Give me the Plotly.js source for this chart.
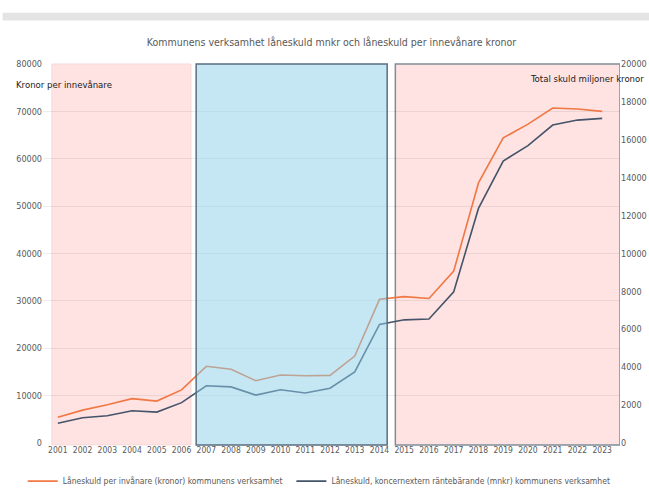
<!DOCTYPE html>
<html>
<head>
<meta charset="utf-8">
<script src="https://cdn.plot.ly/plotly-3.0.1.min.js"></script>
<style>
  html, body { margin: 0; padding: 0; background: #fff; }
  #chart { width: 649px; height: 495px; }
</style>
</head>
<body>
<div id="chart"></div>
<script>
// years on the x axis
var years = [2001, 2002, 2003, 2004, 2005, 2006, 2007, 2008, 2009, 2010, 2011, 2012,
  2013, 2014, 2015, 2016, 2017, 2018, 2019, 2020, 2021, 2022, 2023];

// Låneskuld per invånare (kronor), left axis
var perInvanare = [5450, 6940, 8080, 9360, 8850, 11200, 16190, 15550, 13150, 14350, 14200, 14280,
  18360, 30330, 30900, 30500, 36300, 54900, 64400, 67300, 70700, 70500, 70000];

// Låneskuld mnkr, right axis
var skuldMnkr = [1040, 1330, 1440, 1700, 1630, 2130, 3020, 2960, 2530, 2810, 2640, 2890,
  3750, 6260, 6500, 6540, 7980, 12380, 14880, 15690, 16780, 17040, 17130];

var leftTicks = [0, 10000, 20000, 30000, 40000, 50000, 60000, 70000, 80000];
var rightTicks = [0, 2000, 4000, 6000, 8000, 10000, 12000, 14000, 16000, 18000, 20000];

var font = '"DejaVu Sans Condensed", "Liberation Sans Narrow", "Roboto", sans-serif';
var grey = '#595959';

var trace1 = {
  x: years,
  y: perInvanare,
  name: 'Låneskuld per invånare (kronor) kommunens verksamhet',
  type: 'scatter',
  mode: 'lines',
  legend: 'legend',
  line: {color: '#F07843', width: 1.6}
};

var trace2 = {
  x: years,
  y: skuldMnkr,
  yaxis: 'y2',
  name: 'Låneskuld, koncernextern räntebärande (mnkr) kommunens verksamhet',
  type: 'scatter',
  mode: 'lines',
  legend: 'legend2',
  line: {color: '#44546A', width: 1.6}
};

// two legends side by side so that each keeps its full text
function legendAt(x) {
  return {
    orientation: 'h',
    xref: 'container', yref: 'container',
    x: x, xanchor: 'left',
    y: 0.028, yanchor: 'middle',
    font: {size: 8.5, color: grey},
    itemwidth: 30,
    bgcolor: 'rgba(0,0,0,0)'
  };
}

var layout = {
  width: 649,
  height: 495,
  margin: {l: 43, r: 29, t: 64, b: 52},
  paper_bgcolor: '#fff',
  plot_bgcolor: '#fff',
  font: {family: font, size: 9, color: grey},
  showlegend: true,
  title: {
    text: 'Kommunens verksamhet låneskuld mnkr och låneskuld per innevånare kronor',
    font: {family: font, size: 10.5, color: grey},
    x: 0.5, xref: 'paper', y: 0.915, yanchor: 'middle'
  },
  xaxis: {
    range: [2000.4, 2023.72],
    tickvals: years,
    tickangle: 0,
    tickfont: {size: 8.5, color: grey},
    showgrid: false,
    zeroline: false,
    showline: false,
    automargin: false,
    ticks: ''
  },
  yaxis: {
    range: [0, 80000],
    tickvals: leftTicks,
    tickformat: 'd',
    tickfont: {size: 9, color: grey},
    showgrid: true,
    gridcolor: 'rgba(0,0,0,0.07)',
    zeroline: false,
    showline: false,
    automargin: false,
    ticks: ''
  },
  yaxis2: {
    range: [0, 20000],
    tickvals: rightTicks,
    tickformat: 'd',
    tickfont: {size: 9, color: grey},
    overlaying: 'y',
    side: 'right',
    showgrid: false,
    zeroline: false,
    showline: false,
    automargin: false,
    ticks: ''
  },
  legend: legendAt(0.035),
  legend2: legendAt(0.449),
  shapes: [
    {type: 'rect', xref: 'paper', yref: 'paper', x0: -0.07, x1: 1.06, y0: 1.115, y1: 1.135,
      fillcolor: '#e4e4e4', line: {width: 0}, layer: 'below'},
    {type: 'rect', xref: 'x', yref: 'paper', x0: 2000.76, x1: 2006.38, y0: -0.005, y1: 1,
      fillcolor: '#FFE2E2', line: {color: '#F5D8D8', width: 1}, layer: 'below'},
    {type: 'rect', xref: 'x', yref: 'paper', x0: 2006.59, x1: 2014.31, y0: -0.005, y1: 1,
      fillcolor: 'rgba(139,205,231,0.5)', line: {color: '#5A6E80', width: 1.5}, layer: 'above'},
    {type: 'rect', xref: 'x', yref: 'paper', x0: 2014.64, x1: 2023.72, y0: -0.005, y1: 1,
      fillcolor: '#FFE2E2', line: {color: '#7F8D99', width: 1.5}, layer: 'below'}
  ],
  annotations: [
    {text: 'Kronor per innevånare', xref: 'paper', yref: 'paper', x: -0.05, y: 0.947,
      xanchor: 'left', yanchor: 'middle', showarrow: false,
      font: {family: font, size: 9.5, color: '#1a1a1a'}},
    {text: 'Total skuld miljoner kronor', xref: 'paper', yref: 'paper', x: 1.045, y: 0.963,
      xanchor: 'right', yanchor: 'middle', showarrow: false,
      font: {family: font, size: 9.5, color: '#1a1a1a'}}
  ]
};

var config = {responsive: false, displayModeBar: false};
Plotly.newPlot('chart', [trace1, trace2], layout, config);
</script>
</body>
</html>
